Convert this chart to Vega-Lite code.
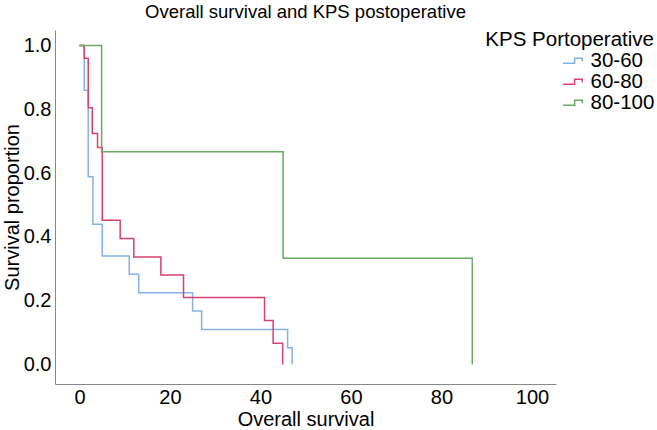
{
  "$schema": "https://vega.github.io/schema/vega-lite/v6.json",
  "autosize": "none",
  "width": 501,
  "height": 354,
  "padding": {"left": 55, "top": 30, "right": 101, "bottom": 46},
  "background": "white",
  "config": {
    "font": "Liberation Sans",
    "view": {"stroke": null}
  },
  "title": {
    "text": "Overall survival and KPS postoperative",
    "fontSize": 18.5,
    "fontWeight": "normal",
    "font": "Liberation Sans",
    "color": "#000000",
    "anchor": "middle",
    "offset": 9
  },
  "data": {
    "values": [
      {"group": "30-60", "t": 0, "s": 1.0},
      {"group": "30-60", "t": 1.06, "s": 0.86},
      {"group": "30-60", "t": 1.94, "s": 0.589},
      {"group": "30-60", "t": 2.98, "s": 0.44},
      {"group": "30-60", "t": 5.04, "s": 0.34},
      {"group": "30-60", "t": 11.0, "s": 0.283},
      {"group": "30-60", "t": 13.1, "s": 0.225},
      {"group": "30-60", "t": 25.0, "s": 0.168},
      {"group": "30-60", "t": 27.0, "s": 0.11},
      {"group": "30-60", "t": 46.0, "s": 0.053},
      {"group": "30-60", "t": 47.0, "s": 0.0},
      {"group": "60-80", "t": 0, "s": 1.0},
      {"group": "60-80", "t": 1.06, "s": 0.96},
      {"group": "60-80", "t": 1.94, "s": 0.805},
      {"group": "60-80", "t": 2.83, "s": 0.724},
      {"group": "60-80", "t": 4.0, "s": 0.68},
      {"group": "60-80", "t": 5.04, "s": 0.452},
      {"group": "60-80", "t": 9.0, "s": 0.395},
      {"group": "60-80", "t": 12.0, "s": 0.337},
      {"group": "60-80", "t": 18.0, "s": 0.281},
      {"group": "60-80", "t": 23.0, "s": 0.21},
      {"group": "60-80", "t": 40.9, "s": 0.138},
      {"group": "60-80", "t": 42.8, "s": 0.067},
      {"group": "60-80", "t": 44.9, "s": 0.0},
      {"group": "80-100", "t": 0, "s": 1.0},
      {"group": "80-100", "t": 4.9, "s": 0.667},
      {"group": "80-100", "t": 45.0, "s": 0.333},
      {"group": "80-100", "t": 86.8, "s": 0.0}
    ]
  },
  "mark": {"type": "line", "interpolate": "step-after", "strokeWidth": 1.5},
  "encoding": {
    "x": {
      "field": "t",
      "type": "quantitative",
      "title": "Overall survival",
      "scale": {"domain": [-5.4, 105.3], "nice": false, "zero": false},
      "axis": {
        "values": [0, 20, 40, 60, 80, 100],
        "grid": false,
        "ticks": false,
        "domainColor": "#888888",
        "domainWidth": 1,
        "labelFontSize": 20,
        "labelColor": "#000000",
        "labelPadding": 3,
        "labelFlush": false,
        "titleFontSize": 20,
        "titleFontWeight": "normal",
        "titleColor": "#000000",
        "titlePadding": 2
      }
    },
    "y": {
      "field": "s",
      "type": "quantitative",
      "title": "Survival proportion",
      "scale": {"domain": [-0.061, 1.0486], "nice": false, "zero": false},
      "axis": {
        "values": [0, 0.2, 0.4, 0.6, 0.8, 1.0],
        "format": ".1f",
        "grid": false,
        "ticks": false,
        "domainColor": "#888888",
        "domainWidth": 1,
        "labelFontSize": 20,
        "labelColor": "#000000",
        "labelPadding": 4,
        "labelFlush": false,
        "titleFontSize": 20,
        "titleFontWeight": "normal",
        "titleColor": "#000000",
        "titlePadding": 1
      }
    },
    "color": {
      "field": "group",
      "type": "nominal",
      "title": "KPS Portoperative",
      "scale": {
        "domain": ["30-60", "60-80", "80-100"],
        "range": ["#86b2e6", "#d8426c", "#6aaa62"]
      },
      "legend": {
        "orient": "none",
        "legendX": 430,
        "legendY": 0,
        "titleFontSize": 20.5,
        "titleFontWeight": "normal",
        "titleColor": "#000000",
        "titleAnchor": "end",
        "titlePadding": 0,
        "labelFontSize": 20.5,
        "labelColor": "#000000",
        "symbolType": "M-1.4,0.3 L0.05,0.3 L0.05,-0.3 L1,-0.3 L1,0.05",
        "symbolSize": 256,
        "symbolStrokeWidth": 1.5,
        "symbolFillColor": "transparent",
        "symbolOffset": 2,
        "rowPadding": -5.5,
        "labelOffset": 6
      }
    }
  }
}
